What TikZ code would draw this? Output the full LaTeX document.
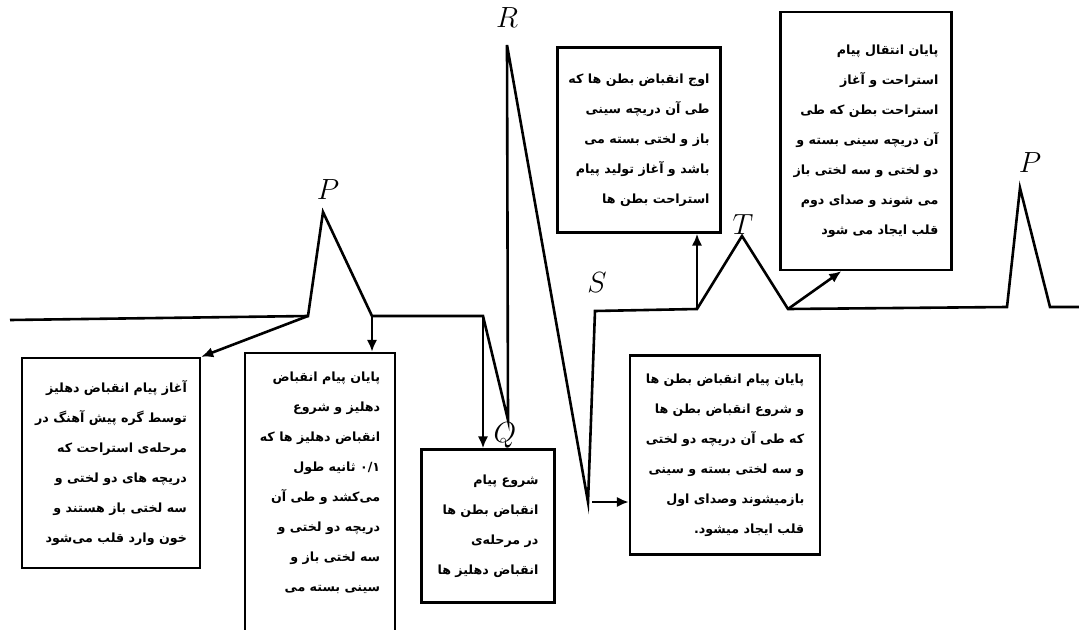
\documentclass[tikz,border=0pt]{standalone}
\usepackage{fontspec}
\newfontfamily\arabicfont[Script=Arabic]{DejaVu Sans}
\TeXXeTstate=1
\usetikzlibrary{
  arrows.meta
}
\newcommand{\fa}[1]{\beginR #1\endR}
\tikzset{
  >={Latex[length=3mm,width=2.6mm]},
  ecg/.style={line width=0.65mm, line join=miter},
  pointer/.style={->, line width=0.65mm},
  infobox/.style={draw, line width=0.6mm, align=right, inner sep=0pt,
    font=\arabicfont\bfseries\fontsize{9}{21.3}\selectfont},
  wave/.style={font=\fontsize{20}{20}\selectfont}
}

\begin{document}
\begin{tikzpicture}[x=0.25mm, y=-0.25mm]
    \useasboundingbox (0,0) rectangle (1079,629);
    \clip (0,0) rectangle (1079,629);
    % points of the trace
    \coordinate (start) at (10,320);
    \coordinate (p1a) at (308,316);
    \coordinate (P1) at (323,212);
    \coordinate (p1b) at (372,316);
    \coordinate (q0) at (483,316);
    \coordinate (Q) at (508,420);
    \coordinate (R) at (507,45);
    \coordinate (S) at (588,502);
    \coordinate (s1) at (595,311);
    \coordinate (t0) at (697,309);
    \coordinate (T) at (742,236);
    \coordinate (t1) at (788,309);
    \coordinate (p2a) at (1007,307);
    \coordinate (P2) at (1020,188);
    \coordinate (p2b) at (1050,307);
    \coordinate (end) at (1079,307);
    \draw[ecg] (start) -- (p1a) -- (P1) -- (p1b) -- (q0) -- (Q) -- (R) -- (S)
      -- (s1) -- (t0) -- (T) -- (t1) -- (p2a) -- (P2) -- (p2b) -- (end);
    % wave names
    \node[wave] (lp1) at (328,190) {$P$};
    \node[wave] (lr) at (507,18) {$R$};
    \node[wave] (lq) at (505,435) {$Q$};
    \node[wave] (ls) at (597,283) {$S$};
    \node[wave] (lt) at (743,225) {$T$};
    \node[wave] (lp2) at (1030,163) {$P$};
    % boxes
    \node[infobox, minimum width=44.5mm, minimum height=52.5mm] (box1) at (111,463)
      {\fa{آغاز پیام انقباض دهلیز}\\\fa{توسط گره پیش آهنگ در}\\\fa{مرحله‌ی استراحت که}\\
       \fa{دریچه های دو لختی و}\\\fa{سه لختی باز هستند و}\\\fa{خون وارد قلب می‌شود}};
    \node[infobox, minimum width=37.5mm, minimum height=71.75mm] (box2) at (320,496.5)
      {\fa{پایان پیام انقباض}\\\fa{دهلیز و شروع}\\\fa{انقباض دهلیز ها که}\\
       \fa{\beginL ۰/۱\endL{} ثانیه طول}\\\fa{می‌کشد و طی آن}\\\fa{دریچه دو لختی و}\\
       \fa{سه لختی باز و}\\\fa{سینی بسته می}\\\mbox{}};
    \node[infobox, minimum width=33.25mm, minimum height=38.25mm] (box3) at (488,526)
      {\fa{شروع پیام}\\\fa{انقباض بطن ها}\\\fa{در مرحله‌ی}\\\fa{انقباض دهلیز ها}};
    \node[infobox, minimum width=40.75mm, minimum height=46.25mm] (box4) at (639,140)
      {\fa{اوج انقباض بطن ها که}\\\fa{طی آن دریچه سینی}\\\fa{باز و لختی بسته می}\\
       \fa{باشد و آغاز تولید پیام}\\\fa{استراحت بطن ها}};
    \node[infobox, minimum width=42.75mm, minimum height=64.5mm] (box5) at (866,141)
      {\fa{پایان انتقال پیام}\\\fa{استراحت و آغاز}\\\fa{استراحت بطن که طی}\\
       \fa{آن دریچه سینی بسته و}\\\fa{دو لختی و سه لختی باز}\\\fa{می شوند و صدای دوم}\\
       \fa{قلب ایجاد می شود}};
    \node[infobox, minimum width=47.5mm, minimum height=49.75mm] (box6) at (725,455)
      {\fa{پایان پیام انقباض بطن ها}\\\fa{و شروع انقباض بطن ها}\\\fa{که طی آن دریچه دو لختی}\\
       \fa{و سه لختی بسته و سینی}\\\fa{بازمیشوند وصدای اول}\\\fa{قلب ایجاد میشود.}};
    % pointers
    \draw[pointer] (p1a) -- (box1.north east);
    \draw[pointer] (p1b) -- (p1b |- box2.north);
    \draw[pointer] (q0) -- (q0 |- box3.north);
    \draw[pointer] (t0) -- (t0 |- box4.south);
    \draw[pointer] (t1) -- ([xshift=15.5mm]box5.south west);
    \draw[pointer] ([xshift=1mm]S) -- (S -| box6.west);
\end{tikzpicture}
\end{document}
